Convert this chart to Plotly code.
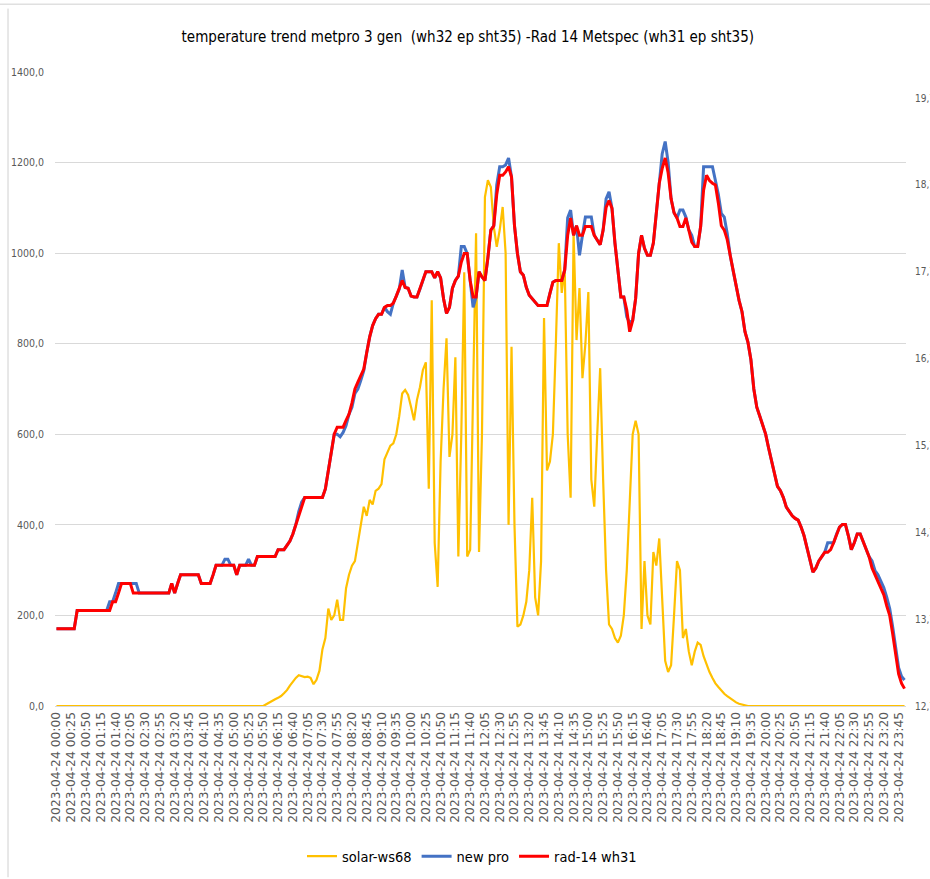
import pandas as pd
import plotly.graph_objects as go

TITLE = "temperature trend metpro 3 gen  (wh32 ep sht35) -Rad 14 Metspec (wh31 ep sht35)"

# 5-minute categories for 2023-04-24
times = list(pd.date_range("2023-04-24 00:00", periods=288, freq="5min").strftime("%Y-%m-%d %H:%M"))
tick_labels = times[::5]

# solar radiation (left axis)
solar_ws68 = [
    0, 0, 0, 0, 0, 0, 0, 0, 0, 0, 0, 0, 0, 0, 0, 0, 0, 0, 0, 0,
    0, 0, 0, 0, 0, 0, 0, 0, 0, 0, 0, 0, 0, 0, 0, 0, 0, 0, 0, 0,
    0, 0, 0, 0, 0, 0, 0, 0, 0, 0, 0, 0, 0, 0, 0, 0, 0, 0, 0, 0,
    0, 0, 0, 0, 0, 0, 0, 0, 0, 0, 0,
    4, 8, 12, 15, 18, 22, 28, 35, 45, 55, 62, 68, 66, 64, 65, 62, 48, 58, 78,
    125, 150, 215, 190, 200, 235, 190, 190, 260, 290, 310, 320, 360, 400, 440,
    420, 455, 445, 475, 480, 490, 545, 560, 575, 580, 600, 640, 690, 698, 687,
    660, 631, 676, 704, 742, 759, 480, 896, 360, 263, 540, 700, 812, 550, 600,
    770, 330, 600, 958, 330, 345, 700, 1044, 340, 600, 1124, 1161, 1146, 1058, 1014,
    1051, 1102, 1000, 400, 793, 400, 175, 180, 200, 230, 300, 460, 240, 200, 320,
    857, 520, 540, 600, 800, 1022, 912, 969, 600, 460, 1044, 808, 923, 724, 800,
    914, 500, 440, 600, 746, 500, 300, 180, 170, 150, 140, 155, 200, 300, 450,
    600, 630, 600, 170, 320, 200, 180, 340, 310, 370, 240, 100, 75, 90, 200,
    320, 300, 150, 170, 120, 90, 120, 140, 135, 110, 90, 75, 62, 50, 42,
    34, 27, 22, 17, 12, 8, 5, 3, 1,
    0, 0, 0, 0, 0, 0, 0, 0, 0, 0, 0, 0, 0, 0, 0, 0, 0, 0, 0, 0,
    0, 0, 0, 0, 0, 0, 0, 0, 0, 0, 0, 0, 0, 0, 0, 0, 0, 0, 0, 0,
    0, 0, 0, 0, 0, 0, 0, 0, 0, 0, 0, 0, 0, 0,
]

# temperature, new pro (right axis)
new_pro = [
    13.59, 13.59, 13.59, 13.59, 13.59, 13.59, 13.59, 13.80, 13.80, 13.80,
    13.80, 13.80, 13.80, 13.80, 13.80, 13.80, 13.80, 13.80, 13.90, 13.90,
    14.00, 14.11, 14.11, 14.11, 14.11, 14.11, 14.11, 14.11, 14.00, 14.00,
    14.00, 14.00, 14.00, 14.00, 14.00, 14.00, 14.00, 14.00, 14.00, 14.11,
    14.00, 14.11, 14.21, 14.21, 14.21, 14.21, 14.21, 14.21, 14.21, 14.11,
    14.11, 14.11, 14.11, 14.21, 14.32, 14.32, 14.32, 14.39, 14.39, 14.32,
    14.32, 14.21, 14.32, 14.32, 14.32, 14.39, 14.32, 14.32, 14.42, 14.42,
    14.42, 14.42, 14.42, 14.42, 14.42, 14.50, 14.50, 14.50, 14.55, 14.60,
    14.68, 14.79, 14.94, 15.05, 15.10, 15.10, 15.10, 15.10, 15.10, 15.10,
    15.10, 15.20, 15.41, 15.62, 15.83, 15.83, 15.80, 15.85, 15.93, 16.06,
    16.14, 16.30, 16.35, 16.45, 16.56, 16.77, 16.95, 17.08, 17.16, 17.21,
    17.21, 17.29, 17.24, 17.21, 17.34, 17.42, 17.50, 17.72, 17.52, 17.51,
    17.42, 17.41, 17.41, 17.50, 17.60, 17.70, 17.70, 17.70, 17.63, 17.70,
    17.63, 17.39, 17.22, 17.29, 17.51, 17.60, 17.65, 17.99, 17.99, 17.91,
    17.60, 17.29, 17.41, 17.70, 17.64, 17.60, 17.86, 18.18, 18.23, 18.70,
    18.91, 18.91, 18.93, 19.01, 18.79, 18.23, 17.91, 17.70, 17.66, 17.52,
    17.43, 17.39, 17.34, 17.31, 17.31, 17.31, 17.31, 17.45, 17.58, 17.60,
    17.60, 17.60, 17.72, 18.32, 18.41, 18.12, 18.23, 17.89, 18.12, 18.33,
    18.33, 18.33, 18.12, 18.07, 18.01, 18.18, 18.54, 18.62, 18.43, 18.03,
    17.75, 17.41, 17.41, 17.18, 17.11, 17.14, 17.39, 17.91, 18.12, 17.97,
    17.89, 17.89, 18.03, 18.37, 18.72, 19.06, 19.20, 18.96, 18.54, 18.38,
    18.32, 18.41, 18.41, 18.33, 18.18, 18.12, 17.99, 17.99, 18.22, 18.91,
    18.91, 18.91, 18.91, 18.75, 18.59, 18.37, 18.33, 18.14, 17.89, 17.71,
    17.52, 17.37, 17.24, 17.01, 16.89, 16.69, 16.35, 16.14, 16.04, 15.93,
    15.83, 15.67, 15.52, 15.36, 15.23, 15.18, 15.10, 14.99, 14.94, 14.89,
    14.86, 14.84, 14.76, 14.66, 14.52, 14.39, 14.24, 14.29, 14.37, 14.42,
    14.47, 14.58, 14.58, 14.58, 14.68, 14.76, 14.79, 14.79, 14.66, 14.50,
    14.58, 14.68, 14.68, 14.60, 14.50, 14.42, 14.37, 14.26, 14.21, 14.13,
    14.06, 13.95, 13.82, 13.61, 13.35, 13.14, 13.04, 13.00,
]

# temperature, rad-14 wh31 (right axis)
rad14_wh31 = [
    13.59, 13.59, 13.59, 13.59, 13.59, 13.59, 13.59, 13.80, 13.80, 13.80,
    13.80, 13.80, 13.80, 13.80, 13.80, 13.80, 13.80, 13.80, 13.80, 13.90,
    13.90, 14.00, 14.11, 14.11, 14.11, 14.11, 14.00, 14.00, 14.00, 14.00,
    14.00, 14.00, 14.00, 14.00, 14.00, 14.00, 14.00, 14.00, 14.00, 14.11,
    14.00, 14.11, 14.21, 14.21, 14.21, 14.21, 14.21, 14.21, 14.21, 14.11,
    14.11, 14.11, 14.11, 14.21, 14.32, 14.32, 14.32, 14.32, 14.32, 14.32,
    14.32, 14.21, 14.32, 14.32, 14.32, 14.32, 14.32, 14.32, 14.42, 14.42,
    14.42, 14.42, 14.42, 14.42, 14.42, 14.50, 14.50, 14.50, 14.55, 14.60,
    14.68, 14.79, 14.89, 14.99, 15.10, 15.10, 15.10, 15.10, 15.10, 15.10,
    15.10, 15.20, 15.41, 15.62, 15.83, 15.91, 15.91, 15.91, 15.99, 16.06,
    16.19, 16.35, 16.43, 16.51, 16.58, 16.77, 16.95, 17.08, 17.16, 17.21,
    17.21, 17.29, 17.31, 17.31, 17.34, 17.42, 17.50, 17.60, 17.52, 17.51,
    17.42, 17.41, 17.41, 17.50, 17.60, 17.70, 17.70, 17.70, 17.63, 17.70,
    17.63, 17.39, 17.22, 17.29, 17.51, 17.60, 17.65, 17.81, 17.91, 17.91,
    17.60, 17.41, 17.41, 17.70, 17.64, 17.60, 17.86, 18.18, 18.23, 18.59,
    18.81, 18.81, 18.85, 18.91, 18.79, 18.23, 17.91, 17.70, 17.66, 17.52,
    17.43, 17.39, 17.34, 17.31, 17.31, 17.31, 17.31, 17.45, 17.58, 17.60,
    17.60, 17.60, 17.72, 18.12, 18.32, 18.12, 18.23, 18.12, 18.12, 18.22,
    18.22, 18.22, 18.12, 18.07, 18.01, 18.18, 18.44, 18.52, 18.43, 18.03,
    17.75, 17.41, 17.41, 17.26, 17.01, 17.14, 17.39, 17.91, 18.12, 17.97,
    17.89, 17.89, 18.03, 18.37, 18.72, 18.89, 19.01, 18.84, 18.54, 18.38,
    18.32, 18.22, 18.22, 18.32, 18.18, 18.04, 17.99, 17.99, 18.22, 18.64,
    18.81, 18.75, 18.72, 18.70, 18.49, 18.23, 18.18, 18.07, 17.89, 17.71,
    17.52, 17.37, 17.24, 17.01, 16.89, 16.69, 16.35, 16.14, 16.04, 15.93,
    15.83, 15.67, 15.52, 15.36, 15.23, 15.18, 15.10, 14.99, 14.94, 14.89,
    14.86, 14.84, 14.76, 14.66, 14.52, 14.39, 14.24, 14.29, 14.37, 14.42,
    14.47, 14.47, 14.50, 14.58, 14.66, 14.76, 14.79, 14.79, 14.66, 14.50,
    14.58, 14.68, 14.68, 14.60, 14.50, 14.42, 14.29, 14.21, 14.13, 14.06,
    13.98, 13.85, 13.74, 13.53, 13.27, 13.07, 12.96, 12.90,
]

left_ticks = [0, 200, 400, 600, 800, 1000, 1200, 1400]
right_ticks = [12.7, 13.7, 14.7, 15.7, 16.7, 17.7, 18.7, 19.7]

assert len(solar_ws68) == len(times) == len(new_pro) == len(rad14_wh31)

FONT = "DejaVu Sans Condensed, DejaVu Sans, sans-serif"

fig = go.Figure()
fig.add_trace(go.Scatter(x=times, y=solar_ws68, name="solar-ws68", mode="lines",
                         line=dict(color="#FFC000", width=2.2), yaxis="y"))
fig.add_trace(go.Scatter(x=times, y=new_pro, name="new pro", mode="lines",
                         line=dict(color="#4472C4", width=3), yaxis="y2"))
fig.add_trace(go.Scatter(x=times, y=rad14_wh31, name="rad-14 wh31", mode="lines",
                         line=dict(color="#FF0000", width=3), yaxis="y2"))

fig.update_layout(
    width=930, height=879,
    margin=dict(l=55, r=24, t=72, b=173, autoexpand=False),
    paper_bgcolor="white", plot_bgcolor="white",
    separators=",.",
    title=dict(text=TITLE, x=0.503, xanchor="center", y=0.958, yanchor="middle",
               font=dict(family=FONT, size=15, color="#000000")),
    xaxis=dict(type="category", range=[-0.5, 287.5], automargin=False,
               tickmode="array", tickvals=tick_labels, ticktext=tick_labels,
               tickangle=-90, showgrid=False, ticks="",
               showline=True, linecolor="#D9D9D9", linewidth=1,
               tickfont=dict(family="DejaVu Sans", size=12.3, color="#595959")),
    yaxis=dict(range=[0, 1400], tickvals=left_ticks, tickformat=".1f",
               automargin=False,
               showgrid=True, gridcolor="#D9D9D9", gridwidth=1, zeroline=False,
               ticks="", ticklabelstandoff=10,
               tickfont=dict(family=FONT, size=10.5, color="#595959")),
    yaxis2=dict(range=[12.7, 20.0], overlaying="y", side="right", automargin=False,
                tickvals=right_ticks, tickformat=".1f", showgrid=False,
                zeroline=False, ticks="", ticklabelstandoff=8,
                tickfont=dict(family=FONT, size=10, color="#595959")),
    legend=dict(orientation="h", x=0.49, xanchor="center", y=-0.237, yanchor="middle",
                font=dict(family=FONT, size=14.5, color="#000000"),
                itemwidth=30, tracegroupgap=0),
    showlegend=True,
)

# outer chart frame lines (as seen in the screenshot)
fig.add_shape(type="line", xref="paper", yref="paper", x0=-0.0552, x1=-0.0552,
              y0=-0.27, y1=1.10, line=dict(color="#D0D0D0", width=1))
fig.add_shape(type="line", xref="paper", yref="paper", x0=-0.07, x1=1.03,
              y0=1.107, y1=1.107, line=dict(color="#D0D0D0", width=1))

# remove the default 8px page margin so the 930x879 figure fills the window
fig.write_html("out.html", config={"displayModeBar": False},
               post_script="document.body.style.margin='0';")
